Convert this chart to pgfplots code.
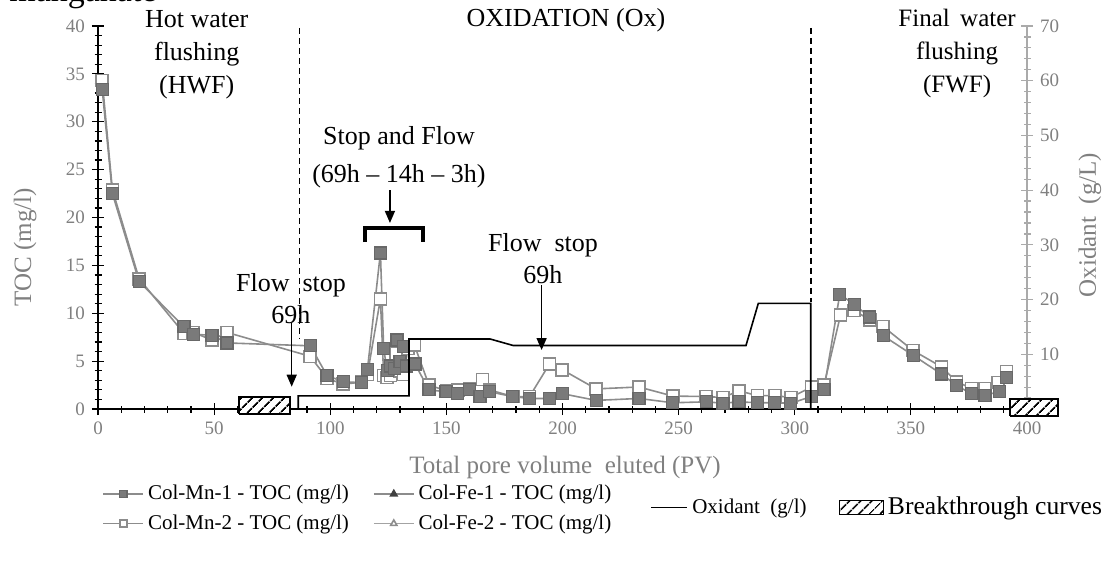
\documentclass[border=0pt]{standalone}
\usepackage{fontspec}
\setmainfont{Liberation Serif}
\usepackage{pgfplots}
\pgfplotsset{compat=1.18}
\usetikzlibrary{patterns.meta,arrows.meta}

\definecolor{tgrey}{RGB}{128,128,128}
\definecolor{mfill}{RGB}{122,122,122}
\definecolor{mline}{RGB}{140,140,140}
\definecolor{agrey}{RGB}{170,170,170}

\pgfplotsset{
  mnone/.style={mline, line width=0.8pt, mark=square*, mark size=3pt,
    mark options={solid, fill=mfill, draw=mfill!85!black, line width=0.6pt}},
  mntwo/.style={mline, line width=0.8pt, mark=square*, mark size=3pt,
    mark options={solid, fill=white, draw=mline, line width=0.8pt}},
  hatch/.style={draw=black, line width=0.7pt, fill=white,
    postaction={pattern={Lines[angle=45,distance=4pt,line width=1pt]}}},
  btlegend/.style={legend image code/.code={
    \draw[draw=black, line width=0.7pt, pattern={Lines[angle=45,distance=4pt,line width=1pt]}]
      (0pt,-3.5pt) rectangle (22pt,3.5pt);}},
}

\begin{document}
\begin{tikzpicture}
% partly cut caption word at the top
\node[anchor=base east, font=\fontsize{17}{20}\selectfont, inner sep=0pt] at (78.5pt,283pt) {manganate};

% ---- TOC axis (left) ----
\begin{axis}[
  at={(49pt,79.5pt)}, anchor=south west,
  scale only axis, width=464.5pt, height=191.5pt,
  xmin=0, xmax=400, ymin=0, ymax=40,
  axis x line=bottom, axis y line=left,
  axis line style={-, black, line width=0.8pt},
  clip=false,
  xtick={0,50,...,400}, minor x tick num=4,
  ytick={0,5,...,40}, minor y tick num=4,
  tick align=center, major tick length=6pt, minor tick length=3.5pt,
  tick style={black, line width=0.6pt},
  ticklabel style={font=\fontsize{9.5}{10}\selectfont, text=tgrey},
  /pgf/number format/assume math mode=true,
  legend image code/.code={\draw[mark repeat=2,mark phase=2] plot coordinates {(0pt,0pt)(10pt,0pt)(20pt,0pt)};},
  legend image post style={mark size=1.8pt},
  legend style={at={(-0.002,-0.177)}, anchor=north west, draw=none, fill=none,
    font=\fontsize{10.5}{12}\selectfont, row sep=2pt,
    /tikz/every even column/.append style={column sep=10pt}},
  legend columns=2, transpose legend, legend cell align=left,
]
\addplot[mntwo, forget plot] coordinates {
 (1.8,34.3) (6.2,22.9) (17.7,13.6) (37,7.9) (41,8.0) (49.1,7.2) (55.5,8.0)
 (91.4,5.5) (98.6,3.2) (105.6,2.6) (113.5,2.8) (116,3.6) (121.6,11.5) (123,3.5)
 (124.5,3.3) (126,3.5) (128.3,5.8) (130,4.0) (131.5,3.6) (133.5,6.3) (136.2,6.7)
 (142.5,2.5) (150,1.9) (155,2.0) (160,2.1) (165.6,3.1) (168.5,2.0) (178.6,1.3)
 (185.8,1.3) (194.4,4.7) (199.9,4.1) (214.5,2.1) (232.9,2.3) (247.5,1.35)
 (261.9,1.3) (269.1,1.2) (276,1.9) (283.9,1.4) (291.4,1.4) (298.3,1.2)
 (307.2,2.3) (312.6,2.5) (319.7,9.8) (325.6,10.3) (332.3,9.3) (338.1,8.6)
 (351,6.1) (363.2,4.4) (369.7,2.85) (376.1,2.15) (381.9,2.15) (387.6,2.75) (391.2,3.9)
};
\addplot[mnone] coordinates {
 (1.8,33.4) (6.2,22.5) (17.7,13.3) (37,8.6) (41,7.8) (49.1,7.7) (55.5,6.9)
 (91.4,6.6) (98.6,3.5) (105.6,2.85) (113.5,2.75) (116,4.1) (121.6,16.3) (123,6.3)
 (124.5,4.0) (126,4.5) (127.5,4.2) (128.7,7.2) (130,5.0) (131.5,6.5) (133,4.5)
 (136.5,4.7) (142.5,2.0) (149.8,1.8) (154.9,1.6) (159.9,2.0) (164.5,1.3)
 (168.5,1.8) (178.6,1.3) (185.8,1.1) (194.4,1.1) (199.9,1.6) (214.5,0.9)
 (232.9,1.1) (247.5,0.65) (261.9,0.75) (269.1,0.6) (276,0.75) (283.9,0.65)
 (291.4,0.65) (298.3,0.6) (307.2,1.3) (312.6,2.05) (319.4,12.0) (325.6,10.9)
 (332.3,9.6) (338.1,7.65) (351,5.6) (363.2,3.65) (369.7,2.45) (376.1,1.6)
 (381.9,1.45) (388,1.8) (391.2,3.3)
};
\addlegendentry{Col-Mn-1 - TOC (mg/l)}
\addlegendimage{mntwo}
\addlegendentry{Col-Mn-2 - TOC (mg/l)}
\addlegendimage{mline, line width=0.8pt, mark=triangle*, mark options={fill=black!75, draw=black!75}}
\addlegendentry{Col-Fe-1 - TOC (mg/l)}
\addlegendimage{mline!80, line width=0.8pt, mark=triangle*, mark options={fill=white, draw=mline}}
\addlegendentry{Col-Fe-2 - TOC (mg/l)}

% phase separators
\draw[dash pattern=on 3pt off 2pt, line width=0.75pt] (axis cs:86.7,39.8) -- (axis cs:86.7,7.31);
\draw[dash pattern=on 3pt off 2pt, line width=0.75pt] (axis cs:307,39.8) -- (axis cs:307,11.2);

% annotations
\begin{scope}[every node/.style={align=center, inner sep=0pt}]
\node[font=\fontsize{13}{16.5}\selectfont] at (axis cs:42.5,36.97) {Hot water\\flushing\\(HWF)};
\node[font=\fontsize{13}{16.5}\selectfont] at (axis cs:201.5,40.63) {OXIDATION (Ox)};
\node[font=\fontsize{12.5}{16.5}\selectfont] at (axis cs:369.9,37.18) {Final\ \,water\\flushing\\(FWF)};
\node[font=\fontsize{13}{19}\selectfont] at (axis cs:129.6,26.3) {Stop and Flow\\(69h \textendash{} 14h \textendash{} 3h)};
\node[font=\fontsize{13}{16}\selectfont] at (axis cs:83.1,11.49) {Flow~~stop\\69h};
\node[font=\fontsize{13}{16}\selectfont] at (axis cs:191.6,15.67) {Flow~~stop\\69h};
\node[font=\fontsize{12.5}{14}\selectfont, text=tgrey, rotate=90] at (axis cs:-31.4,16.9) {TOC (mg/l)};
\node[font=\fontsize{12.5}{14}\selectfont, text=tgrey] at (axis cs:201.1,-6.06) {Total pore volume~~eluted (PV)};
\end{scope}
\draw[-{Triangle[length=6pt,width=5pt]}, line width=0.7pt] (axis cs:83.4,8.98) -- (axis cs:83.4,2.33);
\draw[-{Triangle[length=6pt,width=5pt]}, line width=0.7pt] (axis cs:125.7,22.87) -- (axis cs:125.7,19.43);
\draw[-{Triangle[length=6pt,width=5pt]}, line width=0.7pt] (axis cs:191.0,12.95) -- (axis cs:191.0,6.16);
\draw[line width=2pt] (axis cs:115,17.44) -- (axis cs:115,18.9) -- (axis cs:140.1,18.9) -- (axis cs:140.1,17.44);
\end{axis}

% ---- Oxidant axis (right) ----
\begin{axis}[
  at={(49pt,79.5pt)}, anchor=south west,
  scale only axis, width=464.5pt, height=191.5pt,
  xmin=0, xmax=400, ymin=0, ymax=70,
  axis x line=none, axis y line=right,
  y axis line style={-, agrey, line width=0.7pt},
  clip=false,
  ytick={0,10,...,70}, minor y tick num=4,
  tick align=center, major tick length=6pt, minor tick length=3.5pt,
  tick style={agrey, line width=0.6pt},
  yticklabel style={font=\fontsize{9.5}{10}\selectfont, text=tgrey},
  /pgf/number format/assume math mode=true,
  legend image code/.code={\draw plot coordinates {(0pt,0pt)(18pt,0pt)};},
  legend style={at={(0.588,-0.257)}, anchor=west, draw=none, fill=none,
    font=\fontsize{10.5}{12}\selectfont,
    /tikz/every even column/.append style={column sep=14pt}},
  legend columns=2,
]
\addplot[black, line width=0.8pt] coordinates {
 (86.2,0) (86.2,2.4) (133.9,2.4) (133.9,12.8) (168.8,12.8) (178.8,11.6)
 (279,11.6) (284.3,19.3) (306.9,19.3) (306.9,0)
};
\addlegendentry{Oxidant~~(g/l)}
\addlegendimage{btlegend}
\addlegendentry{\fontsize{12.8}{14}\selectfont Breakthrough curves}

% breakthrough boxes
\addplot[hatch, forget plot] coordinates {(60.7,-0.91) (82.7,-0.91) (82.7,2.19) (60.7,2.19) (60.7,-0.91)};
\addplot[hatch, forget plot] coordinates {(392.7,-1.28) (413.3,-1.28) (413.3,1.83) (392.7,1.83) (392.7,-1.28)};

\node[font=\fontsize{12.5}{14}\selectfont, text=tgrey, rotate=90, inner sep=0pt] at (axis cs:427.1,33.6) {Oxidant~~(g/L)};
\end{axis}

\pgfresetboundingbox
\useasboundingbox (0,0) rectangle (556pt,284pt);
\end{tikzpicture}
\end{document}
